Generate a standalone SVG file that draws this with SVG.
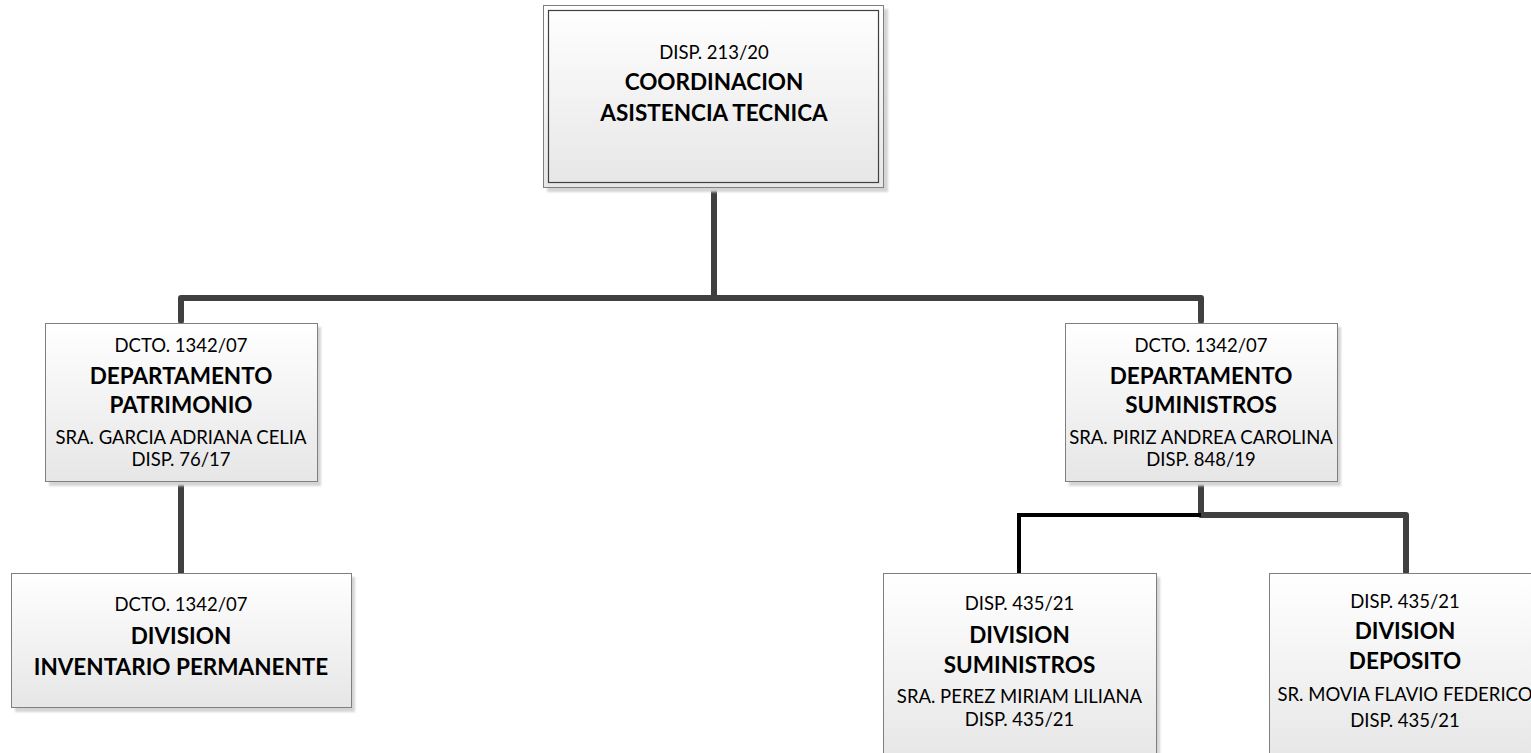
<svg xmlns="http://www.w3.org/2000/svg" width="1531" height="753" viewBox="0 0 1531 753">
<defs>
<linearGradient id="fill" x1="0" y1="0" x2="0" y2="1">
<stop offset="0" stop-color="#ffffff"/>
<stop offset="1" stop-color="#e6e6e6"/>
</linearGradient>
<filter id="sh" x="-5%" y="-5%" width="115%" height="115%">
<feGaussianBlur stdDeviation="1.2"/>
</filter>
</defs>
<style>
.box{fill:url(#fill);stroke:#7f7f7f;stroke-width:1}
.shadow{fill:#d4d4d4;filter:url(#sh)}
.inner{fill:none;stroke:#404040;stroke-width:1.2}
.t{font-family:Lato,"Liberation Sans",sans-serif;font-size:18.5px;fill:#000;text-anchor:middle}
.b{font-family:Lato,"Liberation Sans",sans-serif;font-size:22.5px;font-weight:bold;fill:#000;text-anchor:middle}
.c{fill:none;stroke:#404040;stroke-width:6;stroke-linejoin:round;stroke-linecap:round}
.k{fill:none;stroke:#000;stroke-width:4;stroke-linejoin:miter;stroke-linecap:butt}
</style>
<rect width="1531" height="753" fill="#fff"/>
<g id="connectors">
<path class="c" d="M714,188 V298"/>
<path class="c" d="M181,321 V298 H1201 V321"/>
<path class="c" d="M181,483 V572"/>
<path class="c" d="M1201,483 V515 H1406 V572"/>
<path class="k" d="M1201,515 H1019 V573"/>
</g>
<g id="coordinacion">
<rect class="shadow" x="547" y="9" width="341" height="183"/>
<rect class="box" x="543.5" y="5.5" width="340" height="182"/>
<rect class="inner" x="548.5" y="10.5" width="330" height="172"/>
<text class="t" x="714" y="59">DISP. 213/20</text>
<text class="b" x="714" y="90">COORDINACION</text>
<text class="b" x="714" y="121">ASISTENCIA TECNICA</text>
</g>
<g id="dep-patrimonio">
<rect class="shadow" x="49" y="327" width="272" height="159"/>
<rect class="box" x="45.5" y="323.5" width="272" height="158"/>
<text class="t" x="181" y="352">DCTO. 1342/07</text>
<text class="b" x="181" y="384">DEPARTAMENTO</text>
<text class="b" x="181" y="413">PATRIMONIO</text>
<text class="t" x="181" y="444">SRA. GARCIA ADRIANA CELIA</text>
<text class="t" x="181" y="466">DISP. 76/17</text>
</g>
<g id="dep-suministros">
<rect class="shadow" x="1069" y="327" width="272" height="159"/>
<rect class="box" x="1065.5" y="323.5" width="272" height="158"/>
<text class="t" x="1201" y="352">DCTO. 1342/07</text>
<text class="b" x="1201" y="384">DEPARTAMENTO</text>
<text class="b" x="1201" y="413">SUMINISTROS</text>
<text class="t" x="1201" y="444">SRA. PIRIZ ANDREA CAROLINA</text>
<text class="t" x="1201" y="466">DISP. 848/19</text>
</g>
<g id="div-inventario">
<rect class="shadow" x="15" y="577" width="340" height="135"/>
<rect class="box" x="11.5" y="573.5" width="340" height="134"/>
<text class="t" x="181" y="611">DCTO. 1342/07</text>
<text class="b" x="181" y="644">DIVISION</text>
<text class="b" x="181" y="675">INVENTARIO PERMANENTE</text>
</g>
<g id="div-suministros">
<rect class="shadow" x="887" y="577" width="273" height="190"/>
<rect class="box" x="883.5" y="573.5" width="273" height="190"/>
<text class="t" x="1019.5" y="610">DISP. 435/21</text>
<text class="b" x="1019.5" y="643">DIVISION</text>
<text class="b" x="1019.5" y="673">SUMINISTROS</text>
<text class="t" x="1019.5" y="703">SRA. PEREZ MIRIAM LILIANA</text>
<text class="t" x="1019.5" y="726">DISP. 435/21</text>
</g>
<g id="div-deposito">
<rect class="shadow" x="1273" y="577" width="273" height="190"/>
<rect class="box" x="1269.5" y="573.5" width="273" height="190"/>
<text class="t" x="1405" y="608">DISP. 435/21</text>
<text class="b" x="1405" y="639">DIVISION</text>
<text class="b" x="1405" y="669">DEPOSITO</text>
<text class="t" x="1405" y="701">SR. MOVIA FLAVIO FEDERICO</text>
<text class="t" x="1405" y="727">DISP. 435/21</text>
</g>
</svg>
